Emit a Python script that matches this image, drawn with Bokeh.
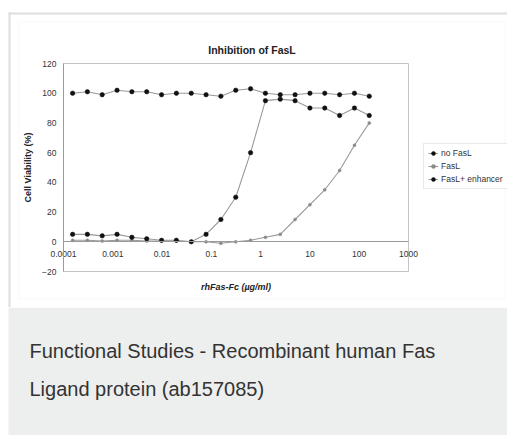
import math
from bokeh.plotting import figure
from bokeh.models import (Range1d, FixedTicker, Legend, LegendItem, Label,
                          BoxAnnotation, LogAxis, LinearAxis)
from bokeh.layouts import column
from bokeh.embed import file_html
from bokeh.resources import INLINE

# ---- data ----
concentration = [0.000153, 0.000305, 0.00061, 0.00122, 0.00244, 0.00488, 0.00977,
                 0.0195, 0.0391, 0.0781, 0.156, 0.3125, 0.625, 1.25, 2.5, 5,
                 10, 20, 40, 80, 160]
no_fasl = [100, 101, 99, 102, 101, 101, 99, 100, 100, 99, 98, 102, 103,
           100, 99, 99, 100, 100, 99, 100, 98]
fasl = [1, 1, 0.5, 1, 1, 0.5, 0.5, 0.5, 0, 0, -1, 0, 1,
        3, 5, 15, 25, 35, 48, 65, 80]
fasl_enhancer = [5, 5, 4, 5, 3, 2, 1, 1, 0, 5, 15, 30, 60,
                 95, 96, 95, 90, 90, 85, 90, 85]
series_names = ["no FasL", "FasL", "FasL+ enhancer"]

x_ticks = [0.0001, 0.001, 0.01, 0.1, 1, 10, 100, 1000]
x_tick_labels = ["0.0001", "0.001", "0.01", "0.1", "1", "10", "100", "1000"]
y_ticks = [-20, 0, 20, 40, 60, 80, 100, 120]

chart_title = "Inhibition of FasL"
x_label = "rhFas-Fc (\u00b5g/ml)"
y_label = "Cell Viability (%)"
caption_lines = ["Functional Studies - Recombinant human Fas",
                 "Ligand protein (ab157085)"]

# ---- layout constants (pixels) ----
FONT = "Liberation Sans"
W, H_CHART, H_CAP = 507, 307, 128
X_MIN, X_MAX, Y_MIN, Y_MAX = 1e-4, 1e3, -20, 120
PX_L, PX_R, PX_T, PX_B = 63, 408, 63, 271   # plot-area box on the canvas


def px_x(px):
    lo, hi = math.log10(X_MIN), math.log10(X_MAX)
    return 10 ** (lo + (px - PX_L) * (hi - lo) / (PX_R - PX_L))


def px_y(py):
    return Y_MAX - (py - PX_T) * (Y_MAX - Y_MIN) / (PX_B - PX_T)


# ---- chart ----
p = figure(width=W, height=H_CHART, x_axis_type="log",
           x_range=Range1d(px_x(0), px_x(W)), y_range=Range1d(px_y(H_CHART), px_y(0)),
           x_axis_location=None, y_axis_location=None,
           output_backend="svg", toolbar_location=None, min_border=0,
           background_fill_color="white", border_fill_color="white",
           outline_line_color=None)
p.xgrid.visible = False
p.ygrid.visible = False

# card border and picture frame
BORDER = "#dedede"
p.add_layout(BoxAnnotation(left=px_x(8), right=px_x(W), top=px_y(12), bottom=px_y(14),
                           fill_color=BORDER, fill_alpha=1, line_alpha=0, level="underlay"))
p.add_layout(BoxAnnotation(left=px_x(8), right=px_x(10), top=px_y(12), bottom=px_y(H_CHART),
                           fill_color=BORDER, fill_alpha=1, line_alpha=0, level="underlay"))
p.add_layout(BoxAnnotation(left=px_x(18.5), right=px_x(504.5), top=px_y(21.5),
                           bottom=px_y(298.5), fill_alpha=0, line_color="#ebebeb",
                           line_width=1, level="underlay"))

# plot-area box
p.quad(left=[X_MIN], right=[X_MAX], bottom=[Y_MIN], top=[Y_MAX],
       fill_alpha=0, line_color="#c4c4c4", line_width=1)

xa = LogAxis(fixed_location=0, bounds=(X_MIN, X_MAX),
             ticker=FixedTicker(ticks=x_ticks),
             major_label_overrides={t: s for t, s in zip(x_ticks, x_tick_labels)},
             minor_tick_line_color=None, major_tick_in=0, major_tick_out=0,
             major_label_standoff=9, axis_line_color="#9a9a9a",
             major_label_text_font=FONT, major_label_text_font_size="8.5px",
             major_label_text_color="#333333")
p.add_layout(xa, "below")

ya = LinearAxis(fixed_location=X_MIN, bounds=(Y_MIN, Y_MAX),
                ticker=FixedTicker(ticks=y_ticks),
                minor_tick_line_color=None, major_tick_in=0, major_tick_out=0,
                major_label_standoff=7, axis_line_color="#9a9a9a",
                major_label_text_font=FONT, major_label_text_font_size="8.5px",
                major_label_text_color="#333333",
                axis_label=y_label, axis_label_text_font=FONT,
                axis_label_text_font_size="9px", axis_label_text_font_style="bold",
                axis_label_text_color="#222222", axis_label_standoff=6)
p.add_layout(ya, "left")

p.add_layout(Label(x=px_x(251.5), y=px_y(49.3), text=chart_title, text_font=FONT,
                   text_font_size="10.5px", text_font_style="bold",
                   text_color="#222222", text_align="center",
                   text_baseline="alphabetic"))
p.add_layout(Label(x=px_x(235.5), y=px_y(286), text=x_label, text_font=FONT,
                   text_font_size="9px", text_font_style="bold italic",
                   text_color="#222222", text_align="center",
                   text_baseline="alphabetic"))

LINE = "#9a9a9a"
l1 = p.line(concentration, no_fasl, line_color=LINE, line_width=1.1)
s1 = p.scatter(concentration, no_fasl, marker="circle", size=4.5,
               fill_color="#111111", line_color="#111111", line_width=0.5)
l2 = p.line(concentration, fasl, line_color=LINE, line_width=1.1)
s2 = p.scatter(concentration, fasl, marker="circle", size=3,
               fill_color="#8a8a8a", line_color="#8a8a8a", line_width=0.5)
l3 = p.line(concentration, fasl_enhancer, line_color=LINE, line_width=1.1)
s3 = p.scatter(concentration, fasl_enhancer, marker="circle", size=4.5,
               fill_color="#111111", line_color="#111111", line_width=0.5)
items = [LegendItem(label=series_names[0], renderers=[l1, s1]),
         LegendItem(label=series_names[1], renderers=[l2, s2]),
         LegendItem(label=series_names[2], renderers=[l3, s3])]
legend = Legend(items=items, location=(423, H_CHART - 189), margin=0, padding=4,
                spacing=3, glyph_height=10, glyph_width=10, label_standoff=3,
                label_height=10, label_text_font=FONT,
                label_text_font_size="8.5px", label_text_color="#333333",
                border_line_color="#d4d4d4", background_fill_color="white")
p.add_layout(legend)

# ---- caption ----
c = figure(width=W, height=H_CAP, x_range=Range1d(0, W), y_range=Range1d(H_CAP, 0),
           output_backend="svg", toolbar_location=None, min_border=0,
           x_axis_location=None, y_axis_location=None,
           background_fill_color="white", border_fill_color="white",
           outline_line_color=None)
c.grid.visible = False
c.add_layout(BoxAnnotation(left=8, right=W, top=0, bottom=H_CAP,
                           fill_color="#edeeee", fill_alpha=1, line_alpha=0,
                           level="underlay"))
for i, txt in enumerate(caption_lines):
    c.add_layout(Label(x=29, y=43.5 + 38.4 * i, text=txt, text_font=FONT,
                       text_font_size="20px", text_color="#333333",
                       text_baseline="alphabetic"))

layout = column(p, c, spacing=0)
open("out.html", "w").write(file_html(layout, INLINE))
